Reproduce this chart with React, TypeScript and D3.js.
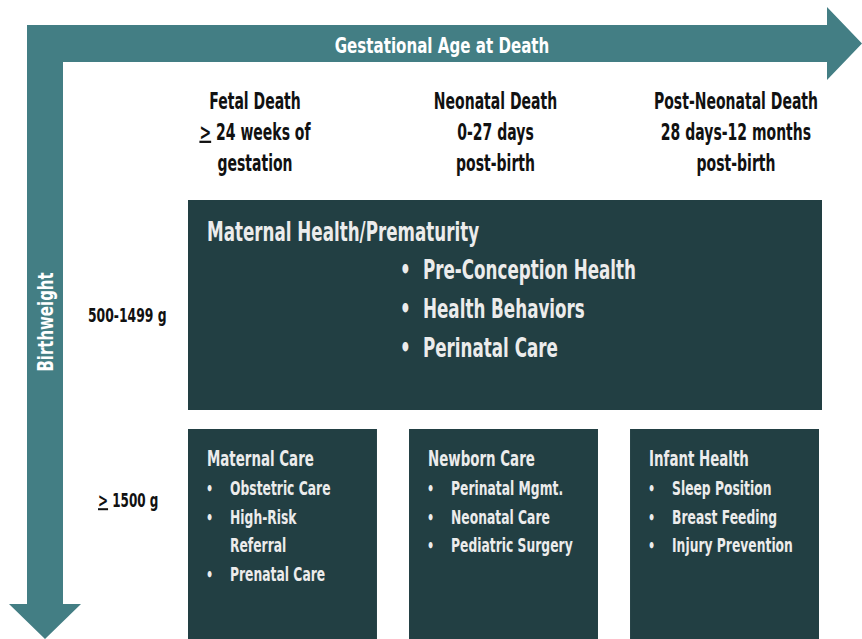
import React from "react";
import * as d3 from "d3";

const columnHeaders: string[][] = [
  ["Fetal Death", "≥ 24 weeks of", "gestation"],
  ["Neonatal Death", "0-27 days", "post-birth"],
  ["Post-Neonatal Death", "28 days-12 months", "post-birth"],
];
const rowLabels: string[] = ["500-1499 g", "≥ 1500 g"];
const bigTitle = "Maternal Health/Prematurity";
const bigBullets: string[] = ["Pre-Conception Health", "Health Behaviors", "Perinatal Care"];
const smallTitles: string[] = ["Maternal Care", "Newborn Care", "Infant Health"];
const smallBullets: string[][] = [
  ["Obstetric Care", "High-Risk\nReferral", "Prenatal Care"],
  ["Perinatal Mgmt.", "Neonatal Care", "Pediatric Surgery"],
  ["Sleep Position", "Breast Feeding", "Injury Prevention"],
];
const xAxisTitle = "Gestational Age at Death";
const yAxisTitle = "Birthweight";

const W = 862;
const H = 639;
const TEAL = "#437E84";
const DARK = "#223F43";
const LIGHT = "#ECECEC";
const FONT = "'DejaVu Sans', sans-serif";
const K = 0.62;

function T({ x, y, text, size, anchor = "start", fill = "#111", k = K, rotate = 0 }: any) {
  const tf = `translate(${x},${y})${rotate ? ` rotate(${rotate})` : ""} scale(${k},1)`;
  const ge = text.startsWith("≥");
  return (
    <g transform={tf}>
      <text x={0} y={0} fontSize={size} fontWeight={700} fill={fill} textAnchor={anchor} fontFamily={FONT}>
        {ge ? (
          <>
            <tspan textDecoration="underline">&gt;</tspan>
            <tspan>{text.slice(1)}</tspan>
          </>
        ) : (
          text
        )}
      </text>
    </g>
  );
}

export default function App() {
  const colX = d3.scalePoint<number>().domain([0, 1, 2]).range([255, 736]);
  const smallX = d3.scaleBand<number>().domain([0, 1, 2]).range([188, 819]).paddingInner(0.145);

  const hArrow = d3.path();
  hArrow.moveTo(27, 25);
  hArrow.lineTo(827, 25);
  hArrow.lineTo(827, 7);
  hArrow.lineTo(862, 43.5);
  hArrow.lineTo(827, 80);
  hArrow.lineTo(827, 62);
  hArrow.lineTo(63, 62);
  hArrow.closePath();

  const vArrow = d3.path();
  vArrow.moveTo(27, 25);
  vArrow.lineTo(63, 25);
  vArrow.lineTo(63, 604);
  vArrow.lineTo(81, 604);
  vArrow.lineTo(45, 639);
  vArrow.lineTo(9, 604);
  vArrow.lineTo(27, 604);
  vArrow.closePath();

  return (
    <svg width={W} height={H} style={{ position: "absolute", left: 0, top: 0, background: "#fff" }}>
      <path d={hArrow.toString()} fill={TEAL} />
      <path d={vArrow.toString()} fill={TEAL} />
      <T x={442} y={53} text={xAxisTitle} size={22} anchor="middle" fill="#fff" k={0.686} />
      <T x={53} y={322} text={yAxisTitle} size={22} anchor="middle" fill="#fff" rotate={-90} k={0.68} />

      {columnHeaders.map((lines, i) =>
        lines.map((l, j) => (
          <T key={i + "-" + j} x={colX(i)} y={108.5 + j * 31} text={l} size={22.6} anchor="middle" />
        ))
      )}

      <T x={88} y={322} text={rowLabels[0]} size={20} k={0.62} />
      <T x={98} y={507} text={rowLabels[1]} size={20} k={0.6} />

      <rect x={188} y={200} width={634} height={210} fill={DARK} />
      <T x={207} y={241} text={bigTitle} size={27} fill={LIGHT} />
      {bigBullets.map((b, i) => (
        <g key={b}>
          <T x={400} y={279 + i * 39} text="•" size={27} fill={LIGHT} />
          <T x={423} y={279 + i * 39} text={b} size={27} fill={LIGHT} />
        </g>
      ))}

      {smallTitles.map((t, i) => {
        const x0 = smallX(i) as number;
        let line = 0;
        const items: any[] = [];
        smallBullets[i].forEach((b, k) => {
          const parts = b.split("\n");
          parts.forEach((p, pi) => {
            const y = 495 + line * 28.7;
            items.push(
              <g key={k + "-" + pi}>
                {pi === 0 && <T x={x0 + 18} y={y} text="•" size={18} fill={LIGHT} />}
                <T x={x0 + 42} y={y} text={p} size={20} fill={LIGHT} k={0.617} />
              </g>
            );
            line++;
          });
        });
        return (
          <g key={t}>
            <rect x={x0} y={429} width={smallX.bandwidth()} height={H - 429} fill={DARK} />
            <T x={x0 + 19} y={466} text={t} size={21} fill={LIGHT} k={0.638} />
            {items}
          </g>
        );
      })}
    </svg>
  );
}
